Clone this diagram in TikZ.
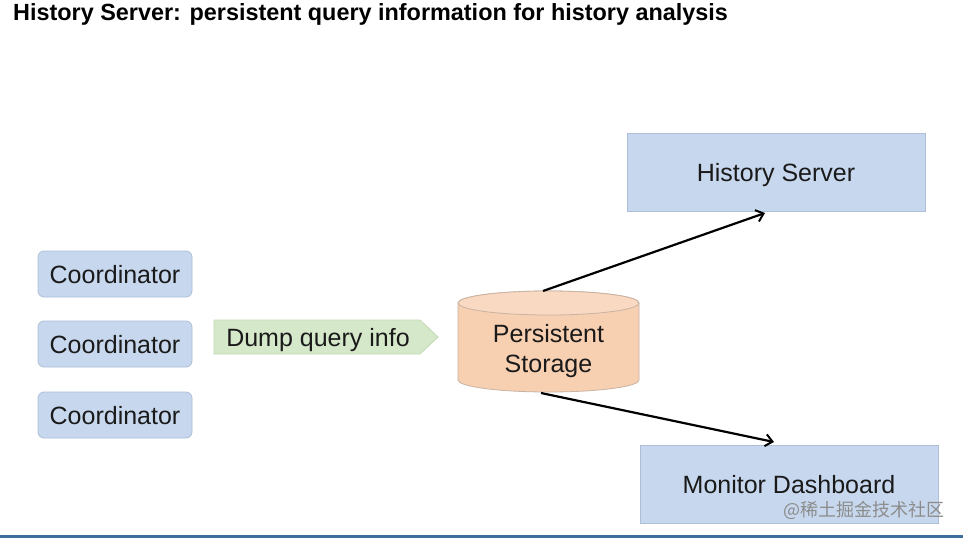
\documentclass[tikz,border=0pt]{standalone}
\usepackage{fontspec}
\setmainfont{Liberation Sans}
\newfontfamily\cjkfont{Noto Sans CJK SC}
\usetikzlibrary{arrows.meta,calc}
\definecolor{boxblue}{HTML}{C7D8EE}
\definecolor{boxblueline}{HTML}{ADBFD8}
\definecolor{dumpgreen}{HTML}{D6E8CA}
\definecolor{dumpline}{HTML}{C3D8B4}
\definecolor{peach}{HTML}{F7CFB1}
\definecolor{peachtop}{HTML}{F9D9C2}
\definecolor{peachline}{HTML}{C9B3A3}
\definecolor{txt}{HTML}{1A1A1A}
\definecolor{bottomline}{HTML}{3F6D9C}
\tikzset{
  coordbox/.style={draw=boxblueline, fill=boxblue, rounded corners=6pt, line width=0.8pt,
    minimum width=154pt, minimum height=46pt, inner sep=0pt, text=txt,
    text height=18pt, text depth=0pt,
    font=\fontsize{25}{28}\selectfont},
  bigbox/.style={draw=boxblueline, fill=boxblue, line width=0.8pt,
    minimum width=298pt, minimum height=78pt, inner sep=0pt, text=txt,
    text height=18pt, text depth=0pt,
    font=\fontsize{25}{28}\selectfont},
  bodytext/.style={text=txt, inner sep=0pt, text height=18pt, text depth=0pt,
    font=\fontsize{25}{28}\selectfont},
  flow/.style={-{Straight Barb[length=7pt,width=12pt,line width=2pt]}, line width=2.2pt, black}
}
\begin{document}
\begin{tikzpicture}[x=1pt,y=-1pt]
\useasboundingbox (0,0) rectangle (963,538);
\fill[white] (0,0) rectangle (963,538);
% title
\node[anchor=base west, inner sep=0pt, text=black, font=\fontsize{23.4}{26}\selectfont\bfseries] (title) at (13,20)
  {History Server: persistent query information for history analysis};
% coordinators
\node[coordbox] (c1) at (115,274) {Coordinator};
\node[coordbox] (c2) at (115,344) {Coordinator};
\node[coordbox] (c3) at (115,415) {Coordinator};
% dump query info arrow shape
\coordinate (d1) at (214,320);
\coordinate (d2) at (420,320);
\coordinate (d3) at (438,337);
\coordinate (d4) at (420,354);
\coordinate (d5) at (214,354);
\fill[dumpgreen, draw=dumpline, line width=0.8pt] (d1) -- (d2) -- (d3) -- (d4) -- (d5) -- cycle;
\node[bodytext] (dump) at (318,337) {Dump query info};
% cylinder
\coordinate (cylTL) at (458,303);
\coordinate (cylTR) at (639,303);
\coordinate (cylBL) at (458,380);
\coordinate (cylBR) at (639,380);
\filldraw[fill=peach, draw=peachline, line width=0.8pt]
  (cylTL) -- (cylBL) arc[start angle=180, end angle=360, x radius=90.5pt, y radius=12pt]
  -- (cylTR) arc[start angle=0, end angle=180, x radius=90.5pt, y radius=12pt] -- cycle;
\filldraw[fill=peachtop, draw=peachline, line width=0.8pt]
  (548.5,303) ellipse[x radius=90.5pt, y radius=12pt];
\node[text=txt, inner sep=0pt, align=center,
  font=\fontsize{25}{30}\selectfont] (storage) at (548.5,351) {Persistent\\Storage};
\coordinate (sTop) at (543,291);
\coordinate (sBot) at (541,393);
% right boxes
\node[bigbox] (hs) at (776,172) {History Server};
\node[bigbox] (md) at (789,484) {Monitor Dashboard};
\coordinate (hsIn) at (765,213);
\coordinate (mdIn) at (774,442);
% connectors
\draw[flow] (sTop) -- (hsIn);
\draw[flow] (sBot) -- (mdIn);
% watermark
\node[anchor=east, inner sep=0pt, text=black!45, font=\cjkfont\fontsize{18}{20}\selectfont] (wm) at (945,510) {@稀土掘金技术社区};
% bottom line
\coordinate (bl1) at (0,536.5);
\coordinate (bl2) at (963,536.5);
\draw[bottomline, line width=3pt] (bl1) -- (bl2);
\end{tikzpicture}
\end{document}
